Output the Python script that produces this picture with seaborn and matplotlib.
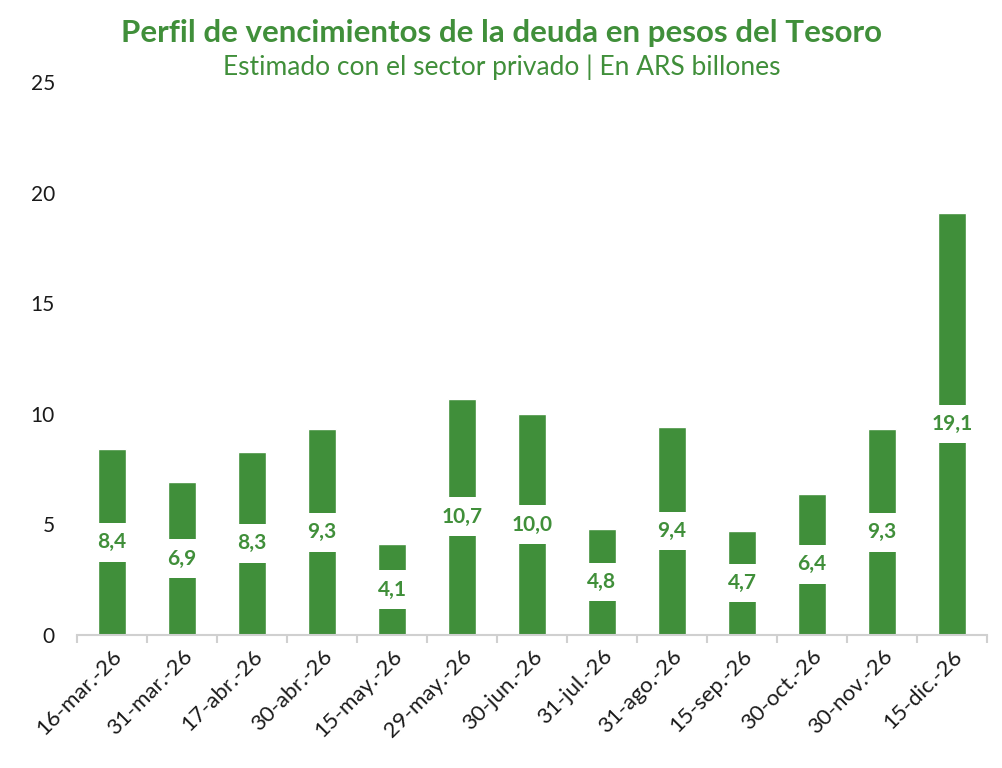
import numpy as np
import pandas as pd
import seaborn as sns
import matplotlib.pyplot as plt

# data
fechas = ["16-mar.-26", "31-mar.-26", "17-abr.-26", "30-abr.-26", "15-may.-26",
          "29-may.-26", "30-jun.-26", "31-jul.-26", "31-ago.-26", "15-sep.-26",
          "30-oct.-26", "30-nov.-26", "15-dic.-26"]
vencimientos = [8.4, 6.9, 8.3, 9.3, 4.1, 10.7, 10.0, 4.8, 9.4, 4.7, 6.4, 9.3, 19.1]
yticks = [0, 5, 10, 15, 20, 25]

verde = "#408F3A"

sns.set_theme(style="white")
plt.rcParams['font.family'] = ['Lato', 'DejaVu Sans']

df = pd.DataFrame({"fecha": fechas, "valor": vencimientos})

fig = plt.figure(figsize=(10.03, 7.68), dpi=100)
ax = fig.add_axes([0.0768, 0.1732, 0.9072, 0.7194])

sns.barplot(data=df, x="fecha", y="valor", color=verde, saturation=1,
            width=0.41, ax=ax)

# value labels in the middle of each bar
for i, v in enumerate(vencimientos):
    ax.text(i, v / 2, f"{v:.1f}".replace(".", ","), ha="center", va="center",
            fontsize=15, fontweight="bold", color=verde,
            bbox=dict(boxstyle="square,pad=0.45", fc="white", ec="none"))

ax.set_xlim(-0.5, len(fechas) - 0.5)
ax.set_ylim(0, 25)
ax.set_yticks(yticks)
ax.set_xlabel("")
ax.set_ylabel("")

for s in ["top", "right", "left"]:
    ax.spines[s].set_visible(False)
ax.spines["bottom"].set_color("#D0D0D0")
ax.spines["bottom"].set_linewidth(1.5)

ax.set_xticks(np.arange(-0.5, len(fechas), 1.0), minor=True)
ax.tick_params(axis="x", which="minor", length=6, width=1.5, color="#D0D0D0",
               direction="out", bottom=True)
ax.tick_params(axis="x", which="major", length=0, pad=8, labelsize=16,
               labelcolor="#1A1A1A")
ax.tick_params(axis="y", length=0, pad=16, labelsize=15, labelcolor="#1A1A1A")
plt.setp(ax.get_xticklabels(), rotation=45, ha="right", rotation_mode="anchor")

fig.text(0.5, 0.957, "Perfil de vencimientos de la deuda en pesos del Tesoro",
         ha="center", va="center", fontsize=22.5, fontweight="bold", color=verde)
fig.text(0.5, 0.912, "Estimado con el sector privado | En ARS billones",
         ha="center", va="center", fontsize=19, color=verde)

fig.savefig("out.png", dpi=100)
